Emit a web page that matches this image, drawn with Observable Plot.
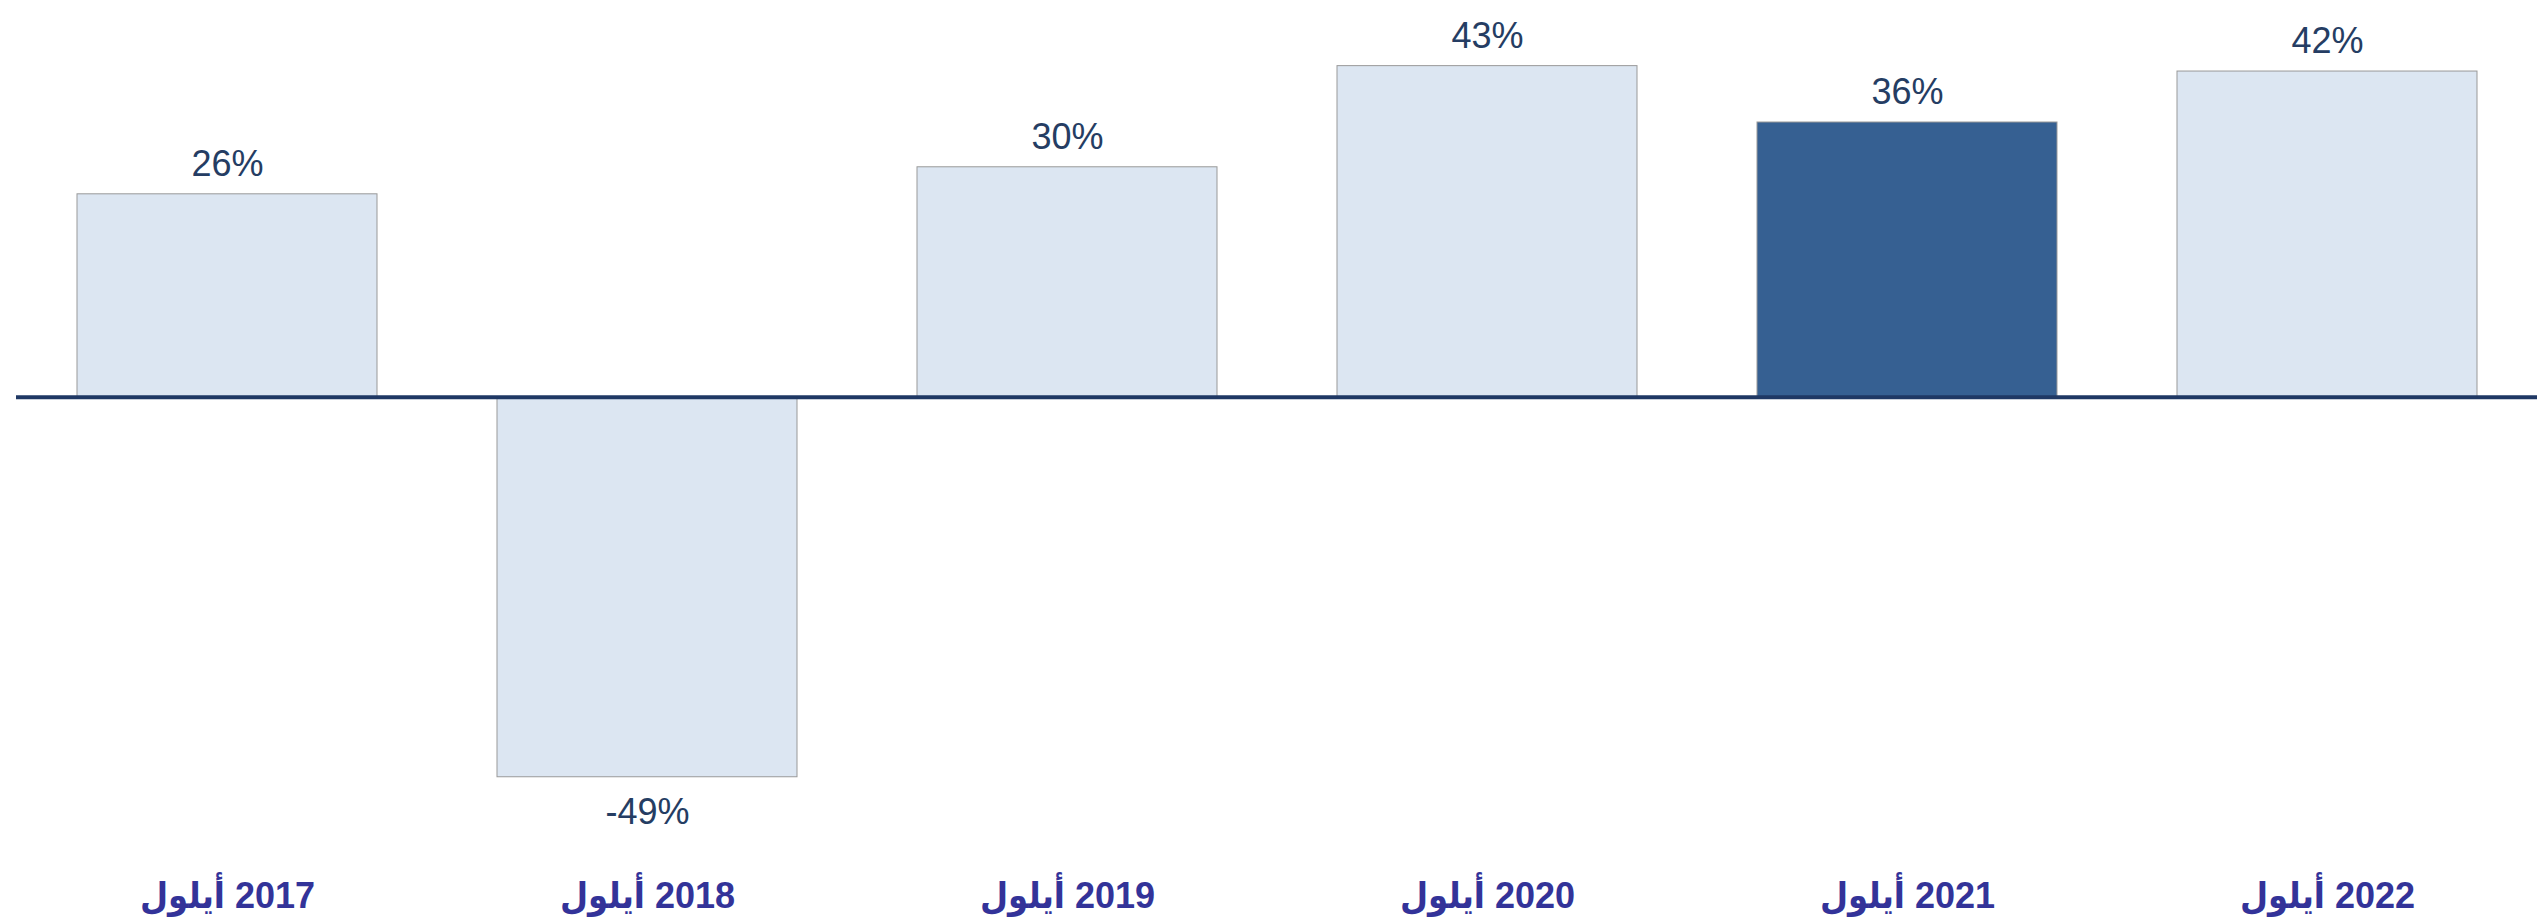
<!DOCTYPE html>
<html>
<head>
<meta charset="utf-8">
<script src="https://cdn.jsdelivr.net/npm/d3@7"></script>
<script src="https://cdn.jsdelivr.net/npm/@observablehq/plot@0.6"></script>
<style>
  html, body { margin: 0; padding: 0; background: #ffffff; }
  #chart svg { display: block; }
  #chart g[aria-label="x-axis tick label"] text {
    direction: rtl; unicode-bidi: embed;
    font-family: 'Liberation Sans', 'DejaVu Sans Condensed', 'DejaVu Sans', sans-serif;
  }
</style>
</head>
<body>
<div id="chart"></div>
<script>
// Categories (tick labels), values (%), highlighted category
const categories = ["2017 أيلول", "2018 أيلول", "2019 أيلول", "2020 أيلول", "2021 أيلول", "2022 أيلول"];
const values = [26.3, -49.2, 29.8, 42.9, 35.6, 42.2];
const highlighted = ["2021 أيلول"];

const data = categories.map((c, i) => ({cat: c, value: values[i], hi: highlighted.includes(c)}));

const chart = Plot.plot({
  width: 2537,
  height: 918,
  marginTop: 0,
  marginBottom: 98,
  marginLeft: 16,
  marginRight: 0,
  style: {fontFamily: "'Liberation Sans', Arial, 'DejaVu Sans', sans-serif", background: "#ffffff"},
  x: {domain: categories, paddingInner: 0.286, paddingOuter: 0.143, label: null},
  y: {domain: [-54.8, 51.4], axis: null},
  marks: [
    Plot.barY(data, {
      x: "cat", y: "value",
      fill: d => d.hi ? "#366092" : "#dce6f2",
      stroke: "#999999", strokeWidth: 1
    }),
    Plot.ruleY([0], {stroke: "#1f3864", strokeWidth: 4}),
    Plot.text(data, {
      x: "cat", y: "value",
      text: d => Math.round(d.value) + "%",
      lineAnchor: "middle",
      fontSize: 36,
      fill: "#253d63",
      filter: d => d.value >= 0,
      dy: -30
    }),
    Plot.text(data, {
      x: "cat", y: "value",
      text: d => Math.round(d.value) + "%",
      lineAnchor: "middle",
      fontSize: 36,
      fill: "#253d63",
      filter: d => d.value < 0,
      dy: 35
    }),
    Plot.axisX({
      tickSize: 0,
      tickPadding: 62,
      fontSize: 36,
      fontWeight: "bold",
      fill: "#333399",
      label: null
    })
  ]
});
document.getElementById("chart").append(chart);
</script>
</body>
</html>
